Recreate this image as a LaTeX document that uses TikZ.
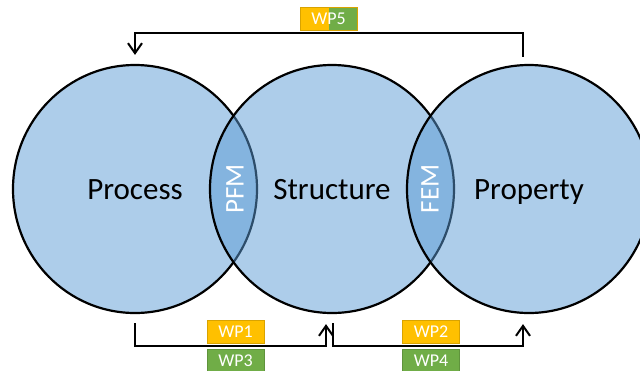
\documentclass[tikz,border=0pt]{standalone}
\usepackage{fontspec}
\setmainfont{Carlito}
\usepackage{xcolor}
\usepackage{tikz}
\usetikzlibrary{arrows.meta, calc, shapes.geometric}

\definecolor{setblue}{HTML}{5B9BD5}
\definecolor{wporange}{HTML}{FFC000}
\definecolor{wpgreen}{HTML}{70AD47}

\tikzset{
    setcircle/.style={ellipse, draw=black, line width=2.2pt, fill=setblue, fill opacity=0.5,
        draw opacity=1, text opacity=1, minimum width=244pt, minimum height=248pt,
        font=\fontsize{31}{31}\selectfont, text height=20pt, text depth=0pt},
    lens/.style={rotate=90, text=white, font=\fontsize{27}{27}\selectfont},
    wpbox/.style={draw, line width=0.8pt, minimum width=57pt, minimum height=23pt, inner sep=0pt,
        text=white, font=\fontsize{18}{18}\selectfont},
    flow/.style={line width=2pt, -{Straight Barb[length=10pt, width=14pt, line width=2pt]}}
}

\begin{document}
\begin{tikzpicture}[x=1pt, y=-1pt]
    \useasboundingbox (0,0) rectangle (640,370);

    % the three overlapping sets
    \node[setcircle] (process) at (135,189) {Process};
    \node[setcircle] (structure) at (332,189) {Structure};
    \node[setcircle] (property) at (529,189) {Property};
    \node[lens] (pfm) at (235,189) {PFM};
    \node[lens] (fem) at (430,189) {FEM};

    % rails for the connectors
    \coordinate (rail-hi) at (0,33);
    \coordinate (rail-lo) at (0,346);
    \coordinate (a1) at ([yshift=-9pt]process.south);
    \coordinate (a2) at ([xshift=-6pt, yshift=-10pt]structure.south);
    \coordinate (b1) at ([xshift=1pt, yshift=-9pt]structure.south);
    \coordinate (b2) at ([xshift=-6pt, yshift=-10pt]property.south);
    \coordinate (c1) at ([xshift=-6pt, yshift=7pt]property.north);
    \coordinate (c2) at ([yshift=9pt]process.north);

    \draw[flow] (a1) -- (a1 |- rail-lo) -- (a2 |- rail-lo) -- (a2);
    \draw[flow] (b1) -- (b1 |- rail-lo) -- (b2 |- rail-lo) -- (b2);
    \draw[flow] (c1) -- (c1 |- rail-hi) -- (c2 |- rail-hi) -- (c2);

    % work packages
    \node[wpbox, fill=wporange, draw=wporange!85!black] (wp1) at (235.5,331.5) {WP1};
    \node[wpbox, fill=wpgreen, draw=wpgreen!85!black] (wp3) at (235.5,360.5) {WP3};
    \node[wpbox, fill=wporange, draw=wporange!85!black] (wp2) at (431,331.5) {WP2};
    \node[wpbox, fill=wpgreen, draw=wpgreen!85!black] (wp4) at (431,360.5) {WP4};
    \node[wpbox, fill=wporange, draw=wporange!85!black,
        path picture={\fill[wpgreen] (path picture bounding box.north) rectangle (path picture bounding box.south east);}]
        (wp5) at (328.5,19) {WP5};
\end{tikzpicture}
\end{document}
